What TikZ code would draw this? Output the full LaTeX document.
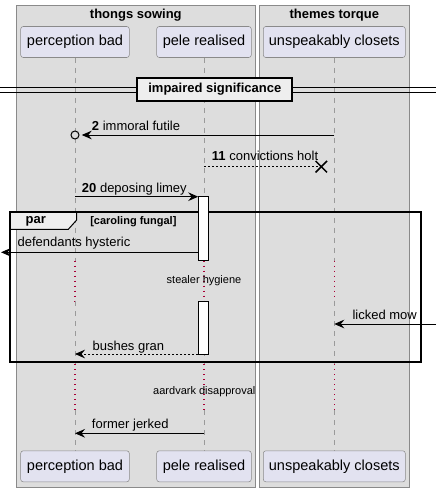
\documentclass[tikz,border=0pt]{standalone}
\usepackage{fontspec}
\setmainfont{Liberation Sans}
\usepackage{tikz}
\usetikzlibrary{arrows.meta}
\usetikzlibrary{shapes.misc}
\definecolor{grpbg}{HTML}{DDDDDD}
\definecolor{grpline}{HTML}{8A8A8A}
\definecolor{partbg}{HTML}{E2E2F0}
\definecolor{lifeln}{HTML}{9A9A9A}
\definecolor{delayc}{HTML}{A80036}
\definecolor{tabbg}{HTML}{EEEEEE}

\begin{document}
\begin{tikzpicture}[x=0.75pt,y=-0.75pt,
  font=\fontsize{9.75}{11}\selectfont,
  grp/.style={draw=grpline,fill=grpbg,line width=0.75pt},
  grpt/.style={font=\fontsize{9.75}{11}\selectfont\bfseries,inner sep=0pt},
  partn/.style={draw=grpline,fill=partbg,rounded corners=1.9pt,
    minimum height=23.25pt,inner sep=0pt,font=\fontsize{10.9}{12}\selectfont},
  life/.style={draw=lifeln,dash pattern=on 3.75pt off 3.75pt,line width=0.75pt},
  delayl/.style={draw=delayc,dash pattern=on 1pt off 2.75pt,line width=1pt},
  actn/.style={draw,fill=white,minimum width=7.2pt,inner sep=0pt,line width=0.75pt},
  msg/.style={draw,line width=0.75pt,-{Stealth[length=7.5pt,width=6.5pt,inset=2.6pt]}},
  rmsg/.style={msg,dash pattern=on 1.5pt off 1.5pt},
  dline/.style={draw,line width=0.75pt,dash pattern=on 1.5pt off 1.5pt},
  lbl/.style={anchor=base west,inner sep=0pt},
  dly/.style={inner sep=0pt,font=\fontsize{8.25}{9}\selectfont},
  circn/.style={circle,draw,fill=grpbg,line width=0.75pt,minimum size=6pt,inner sep=0pt},
  crossn/.style={cross out,draw,line width=1.1pt,minimum size=7.5pt,inner sep=0pt},
  divn/.style={draw,fill=tabbg,line width=1.5pt,minimum width=116.25pt,
    minimum height=17.25pt,inner sep=0pt,font=\fontsize{9.75}{11}\selectfont\bfseries}]
  \useasboundingbox (0,0) rectangle (436,492);

  \draw[grp] (16.3,5.7) rectangle (255.3,487);
  \draw[grp] (259.3,5.7) rectangle (409.3,487);
  \node[grpt] (g1) at (135.8,15) {thongs sowing};
  \node[grpt] (g2) at (334.3,15) {themes torque};

  \node[partn,minimum width=81.45pt] (perc) at (75,42) {perception bad};
  \node[partn,minimum width=70.95pt] (pele) at (204,42) {pele realised};
  \node[partn,minimum width=106.5pt] (unsp) at (334.3,42) {unspeakably closets};
  \node[partn,minimum width=81.45pt] (perc-b) at (75,466.3) {perception bad};
  \node[partn,minimum width=70.95pt] (pele-b) at (204,466.3) {pele realised};
  \node[partn,minimum width=106.5pt] (unsp-b) at (334.3,466.3) {unspeakably closets};

  \coordinate (d1) at (0,260.7);
  \coordinate (d2) at (0,301);
  \coordinate (d3) at (0,364);
  \coordinate (d4) at (0,410);
  \foreach \p in {perc,pele,unsp} {
    \draw[life] (\p.south) -- (\p |- d1);
    \draw[delayl] (\p |- d1) -- (\p |- d2);
    \draw[life] (\p |- d2) -- (\p |- d3);
    \draw[delayl] (\p |- d3) -- (\p |- d4);
    \draw[life] (\p |- d4) -- (\p-b.north);
  }

  \draw[line width=0.75pt] (0,87.7) -- (436,87.7);
  \draw[line width=0.75pt] (0,92.7) -- (436,92.7);
  \node[divn] (div) at (214.8,89.2) {impaired significance};

  \draw[fill=tabbg,line width=0.75pt] (10,211.7) -- (76.7,211.7) -- (76.7,220)
    -- (68.3,229.3) -- (10,229.3) -- cycle;
  \draw[line width=1.5pt] (10,211.7) rectangle (420.7,362.3);
  \node[grpt] (par) at (35.8,221) {par};
  \node[lbl,font=\fontsize{8.25}{9}\selectfont\bfseries] (cond) at (90,224.5) {[caroling fungal]};

  \coordinate (m1) at (0,135);
  \node[circn] (c1) at (perc |- m1) {};
  \draw[msg,shorten >=1.7pt] (unsp |- m1) -- (c1.east);
  \node[lbl] (l1) at (91.7,130.7) {\textbf{2} immoral futile};

  \node[crossn] (x2) at (321.3,166.7) {};
  \draw[dline] (pele |- x2) -- (x2.center);
  \node[lbl] (l2) at (211.7,160.5) {\textbf{11} convictions holt};

  \node[actn,minimum height=48pt] (act1) at (203.5,228.7) {};
  \coordinate (m3) at (0,196.7);
  \draw[msg] (perc |- m3) -- (act1.west |- m3);
  \node[lbl] (l3) at (81.7,192) {\textbf{20} deposing limey};

  \coordinate (lft) at (1,252.3);
  \draw[msg] (act1.west |- lft) -- (lft);
  \node[lbl] (l4) at (17.3,246.7) {defendants hysteric};

  \node[dly] (dl1) at (204,281) {stealer hygiene};

  \node[actn,minimum height=39.75pt] (act2) at (203.5,327.5) {};
  \coordinate (rgt) at (436,324);
  \draw[msg] (rgt) -- (unsp |- rgt);
  \node[lbl] (l5) at (352.3,319) {licked mow};

  \coordinate (m6) at (0,354);
  \draw[rmsg] (act2.west |- m6) -- (perc |- m6);
  \node[lbl] (l6) at (92.3,350) {bushes gran};

  \node[dly] (dl2) at (204.3,391.7) {aardvark disapproval};

  \coordinate (m7) at (0,433.3);
  \draw[msg] (pele |- m7) -- (perc |- m7);
  \node[lbl] (l7) at (91.7,428.7) {former jerked};
\end{tikzpicture}
\end{document}
